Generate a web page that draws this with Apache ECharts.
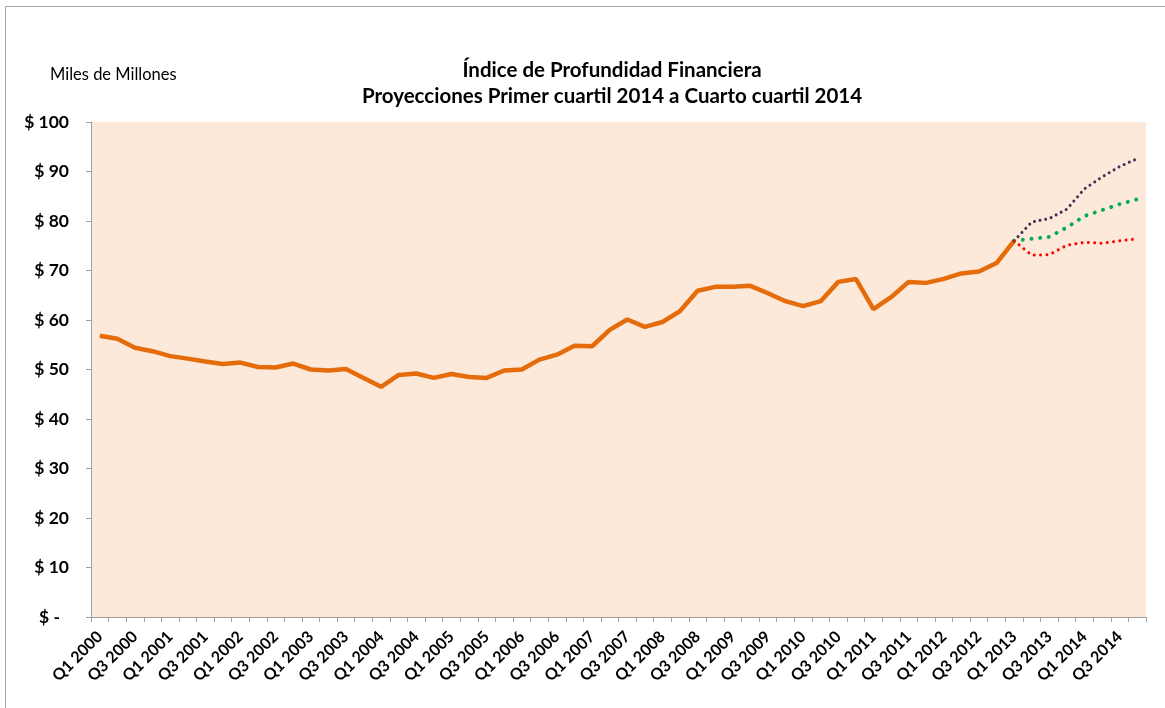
<!DOCTYPE html>
<html>
<head>
<meta charset="utf-8">
<script src="https://cdn.jsdelivr.net/npm/echarts@6/dist/echarts.min.js"></script>
<style>
html,body{margin:0;padding:0;background:#fff;}
#chart{width:1165px;height:708px;}
</style>
</head>
<body>
<div id="chart"></div>
<script>
var categories = [
 'Q1 2000','Q2 2000','Q3 2000','Q4 2000','Q1 2001','Q2 2001','Q3 2001','Q4 2001',
 'Q1 2002','Q2 2002','Q3 2002','Q4 2002','Q1 2003','Q2 2003','Q3 2003','Q4 2003',
 'Q1 2004','Q2 2004','Q3 2004','Q4 2004','Q1 2005','Q2 2005','Q3 2005','Q4 2005',
 'Q1 2006','Q2 2006','Q3 2006','Q4 2006','Q1 2007','Q2 2007','Q3 2007','Q4 2007',
 'Q1 2008','Q2 2008','Q3 2008','Q4 2008','Q1 2009','Q2 2009','Q3 2009','Q4 2009',
 'Q1 2010','Q2 2010','Q3 2010','Q4 2010','Q1 2011','Q2 2011','Q3 2011','Q4 2011',
 'Q1 2012','Q2 2012','Q3 2012','Q4 2012','Q1 2013','Q2 2013','Q3 2013','Q4 2013',
 'Q1 2014','Q2 2014','Q3 2014','Q4 2014'
];
var historico = [56.8,56.2,54.4,53.7,52.7,52.2,51.6,51.1,51.4,50.5,50.4,51.2,50.0,49.8,50.1,48.3,
 46.5,48.9,49.2,48.3,49.1,48.5,48.3,49.8,50.0,52.0,53.0,54.8,54.7,58.0,60.1,58.6,
 59.6,61.8,65.9,66.7,66.7,66.9,65.4,63.8,62.8,63.8,67.7,68.3,62.2,64.6,67.7,67.5,
 68.3,69.4,69.8,71.5,76.0];
// projections start at Q1 2013
var proyAlta = [76.0,79.8,80.5,82.4,86.5,88.9,91.0,92.6];
var proyMedia = [76.0,76.4,76.8,78.7,81.0,82.2,83.4,84.4];
var proyBaja = [76.0,73.1,73.2,75.1,75.7,75.5,76.0,76.4];
var yTicks = [0,10,20,30,40,50,60,70,80,90,100];

function pad(arr){
  var out = [];
  var start = categories.length - arr.length;
  for (var i=0;i<start;i++) out.push(null);
  return out.concat(arr);
}
function fill(arr){
  var out = arr.slice();
  while(out.length < categories.length) out.push(null);
  return out;
}

var FONT = 'Lato';
var chart = echarts.init(document.getElementById('chart'));
chart.setOption({
  animation:false,
  backgroundColor:'#ffffff',
  textStyle:{fontFamily:FONT},
  title:{
    text:'Índice de Profundidad Financiera\nProyecciones Primer cuartil 2014 a Cuarto cuartil 2014',
    left:607, top:52, textAlign:'center',
    textStyle:{fontFamily:FONT,fontWeight:'bold',fontSize:20.5,color:'#000',lineHeight:26}
  },
  graphic:[
    {type:'rect',silent:true,shape:{x:5.5,y:6.5,width:1300,height:900},style:{fill:null,stroke:'#a6a6a6',lineWidth:1}},
    {type:'text',silent:true,x:50,y:75,style:{text:'Miles de Millones',fontFamily:FONT,fontSize:16.5,fill:'#000',verticalAlign:'middle'}}
  ],
  grid:{left:91,right:19,top:122,bottom:91,show:true,backgroundColor:'#FDE9D9',borderWidth:0,containLabel:false},
  xAxis:{
    type:'category',data:categories,boundaryGap:true,
    axisLine:{show:true,lineStyle:{color:'#a0a0a0',width:1}},
    axisTick:{show:true,interval:0,length:5,lineStyle:{color:'#a0a0a0'}},
    axisLabel:{interval:1,rotate:45,margin:17,fontFamily:FONT,fontWeight:'bold',fontSize:16,color:'#000'},
    splitLine:{show:false}
  },
  yAxis:{
    type:'value',min:yTicks[0],max:yTicks[yTicks.length-1],interval:10,
    axisLine:{show:true,lineStyle:{color:'#a0a0a0',width:1}},
    axisTick:{show:true,length:5,lineStyle:{color:'#a0a0a0'}},
    splitLine:{show:false},
    axisLabel:{margin:22,fontFamily:FONT,fontWeight:'bold',fontSize:17.5,color:'#000',
      formatter:function(v){ return v===0 ? '{z|$ -}' : '$ '+v; },
      rich:{z:{fontFamily:FONT,fontWeight:'bold',fontSize:17.5,color:'#000',padding:[0,9,0,0]}}
    }
  },
  series:[
    {name:'Histórico',type:'line',data:fill(historico),showSymbol:false,symbol:'none',
     lineStyle:{color:'#E46C0A',width:4.5},z:3},
    {name:'Proyección alta',type:'line',data:pad(proyAlta),showSymbol:false,symbol:'none',
     lineStyle:{color:'#403152',width:3,type:[0.01,5.7],cap:'round'},z:4},
    {name:'Proyección media',type:'line',data:pad(proyMedia),showSymbol:false,symbol:'none',
     lineStyle:{color:'#00B050',width:4,type:[0.01,8.7],cap:'round'},z:4},
    {name:'Proyección baja',type:'line',data:pad(proyBaja),showSymbol:false,symbol:'none',
     lineStyle:{color:'#FF0000',width:3,type:[0.01,6.3],cap:'round'},z:4}
  ]
});
</script>
</body>
</html>
